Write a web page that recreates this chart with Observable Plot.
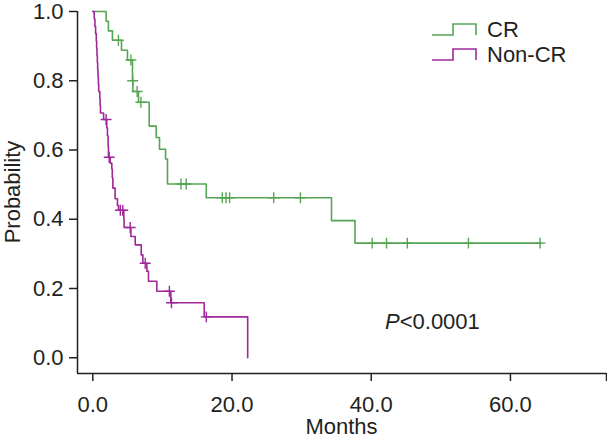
<!DOCTYPE html>
<html>
<head>
<meta charset="utf-8">
<script src="https://cdn.jsdelivr.net/npm/d3@7"></script>
<script src="https://cdn.jsdelivr.net/npm/@observablehq/plot@0.6"></script>
<style>
  html, body { margin: 0; padding: 0; background: #fff; }
  #chart svg { display: block; font-family: "Liberation Sans", Arial, sans-serif; }
</style>
</head>
<body>
<div id="chart"></div>
<script>
// ---- Data ----
const groups = ["CR", "Non-CR"];
const groupColors = ["#55a554", "#a0289a"];

// CR: step times (months) and survival probability
const crTimes = [0, 1.91, 2.24, 2.82, 4.12, 4.98, 5.70, 5.76, 6.56, 8.10, 9.11, 9.58, 10.45, 10.73, 16.30, 34.29, 37.67, 64.4];
const crSurv  = [1.0, 0.972, 0.944, 0.917, 0.888, 0.860, 0.800, 0.769, 0.738, 0.669, 0.636, 0.602, 0.574, 0.502, 0.462, 0.396, 0.331, 0.331];
const crCensorTimes = [3.68, 5.47, 5.73, 6.37, 6.91, 12.66, 13.42, 18.6, 19.14, 19.65, 25.99, 29.83, 40.14, 42.2, 45.18, 53.96, 64.26];
const crCensorSurv  = [0.917, 0.860, 0.800, 0.769, 0.738, 0.502, 0.502, 0.462, 0.462, 0.462, 0.462, 0.462, 0.331, 0.331, 0.331, 0.331, 0.331];

// Non-CR
const ncTimes = [0, 0.2, 0.3, 0.4, 0.5, 0.55, 0.6, 0.65, 0.7, 0.75, 0.8, 0.85, 1.0, 1.05, 1.1, 1.55, 2.0, 2.1, 2.2, 2.25, 2.5, 2.73, 2.8, 2.88, 3.2, 3.54, 3.69, 4.45, 4.5, 5.47, 6.09, 6.95, 7.19, 7.77, 8.0, 9.2, 11.2, 16.0, 22.25];
const ncSurv  = [1.0, 0.979, 0.957, 0.936, 0.915, 0.894, 0.873, 0.852, 0.831, 0.81, 0.79, 0.769, 0.748, 0.728, 0.707, 0.688, 0.664, 0.641, 0.61, 0.579, 0.562, 0.545, 0.52, 0.49, 0.459, 0.44, 0.426, 0.40, 0.376, 0.35, 0.326, 0.297, 0.273, 0.25, 0.221, 0.192, 0.159, 0.118, 0.0];
const ncCensorTimes = [1.91, 2.35, 3.95, 4.3, 5.37, 7.53, 11.0, 11.3, 16.3];
const ncCensorSurv  = [0.688, 0.579, 0.426, 0.426, 0.376, 0.273, 0.192, 0.159, 0.118];

const xTicks = [0, 20, 40, 60];
const yTicks = [0, 0.2, 0.4, 0.6, 0.8, 1.0];
const xLabel = "Months";
const yLabel = "Probability";
const pText = "<0.0001";

// ---- Build tables ----
const steps = [
  ...crTimes.map((t, i) => ({group: "CR", t, s: crSurv[i]})),
  ...ncTimes.map((t, i) => ({group: "Non-CR", t, s: ncSurv[i]}))
];
const censors = [
  ...crCensorTimes.map((t, i) => ({group: "CR", t, s: crCensorSurv[i]})),
  ...ncCensorTimes.map((t, i) => ({group: "Non-CR", t, s: ncCensorSurv[i]}))
];

const xMin = -2.2, xMax = 73.8, yMin = -0.0455, yMax = 1.0;
const axisColor = "#231f20";
const fontSize = 22;

const chart = Plot.plot({
  width: 607,
  height: 440,
  marginLeft: 77,
  marginRight: 1,
  marginTop: 11,
  marginBottom: 67,
  style: {fontFamily: "'Liberation Sans', Arial, sans-serif", fontSize: fontSize + "px", color: axisColor, background: "#fff", overflow: "visible"},
  x: {domain: [xMin, xMax]},
  y: {domain: [yMin, yMax]},
  color: {domain: groups, range: groupColors},
  marks: [
    Plot.ruleY([yMin], {stroke: axisColor, strokeWidth: 1.5}),
    Plot.ruleX([xMin], {y1: yMin, y2: yMax, stroke: axisColor, strokeWidth: 1.5}),
    Plot.axisX({ticks: [...xTicks, xMax], tickFormat: d => xTicks.includes(d) ? d3.format(".1f")(d) : "", tickSize: 8, tickPadding: 15, stroke: axisColor, strokeWidth: 1.5, label: null, fontSize: fontSize}),
    Plot.axisY({ticks: yTicks, tickFormat: d3.format(".1f"), tickSize: 8, tickPadding: 6, stroke: axisColor, strokeWidth: 1.5, label: null, fontSize: fontSize}),
    Plot.line(steps, {x: "t", y: "s", z: "group", stroke: "group", curve: "step-after", strokeWidth: 1.6}),
    Plot.dot(censors, {x: "t", y: "s", stroke: "group", symbol: "plus", r: 3.6, strokeWidth: 1.4})
  ]
});

document.getElementById("chart").appendChild(chart);

// ---- Annotations: axis titles, legend, p-value ----
const svg = d3.select(chart);
const xs = chart.scale("x"), ys = chart.scale("y");

svg.append("text")
  .attr("x", (xs.apply(xMin) + xs.apply(xMax)) / 2)
  .attr("y", 434)
  .attr("text-anchor", "middle")
  .attr("fill", axisColor)
  .style("font-size", fontSize + "px")
  .text(xLabel);

svg.append("text")
  .attr("transform", `translate(20, ${(ys.apply(yMin) + ys.apply(yMax)) / 2}) rotate(-90)`)
  .attr("text-anchor", "middle")
  .attr("fill", axisColor)
  .style("font-size", fontSize + "px")
  .text(yLabel);

// p-value
const pt = svg.append("text")
  .attr("x", 385)
  .attr("y", 329)
  .attr("text-anchor", "start")
  .attr("fill", axisColor)
  .style("font-size", fontSize + "px");
pt.append("tspan").style("font-style", "italic").text("P");
pt.append("tspan").text(pText);

// legend
groups.forEach((g, i) => {
  const y0 = 35 + i * 25, y1 = 24 + i * 25;
  svg.append("path")
    .attr("d", `M432,${y0}H453V${y1}H476V${y0}`)
    .attr("fill", "none")
    .attr("stroke", groupColors[i])
    .attr("stroke-width", 1.6);
  svg.append("text")
    .attr("x", 487)
    .attr("y", 37 + i * 24.5)
    .attr("text-anchor", "start")
    .attr("fill", axisColor)
    .style("font-size", fontSize + "px")
    .text(g);
});
</script>
</body>
</html>
